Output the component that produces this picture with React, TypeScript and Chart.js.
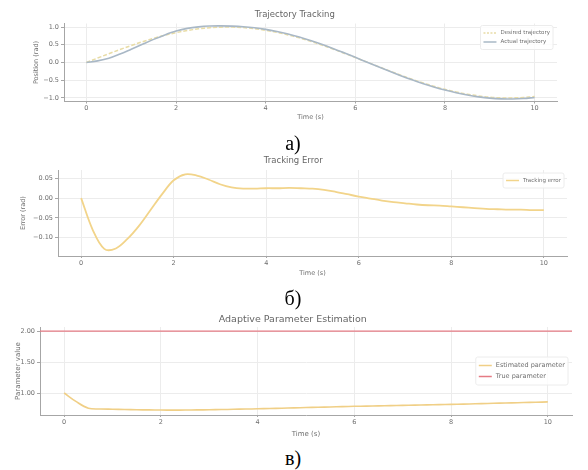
import React, { useEffect, useRef } from "react";
import { Chart, registerables } from "chart.js";

Chart.register(...registerables);

// ---------------- data ----------------
const time = [
  0, 0.25, 0.5, 0.75, 1, 1.25, 1.5, 1.75, 2, 2.25, 2.5, 2.75, 3, 3.25, 3.5, 3.75, 4, 4.25, 4.5, 4.75,
  5, 5.25, 5.5, 5.75, 6, 6.25, 6.5, 6.75, 7, 7.25, 7.5, 7.75, 8, 8.25, 8.5, 8.75, 9, 9.25, 9.5, 9.75, 10,
];

const desiredTrajectory = [
  0, 0.125, 0.247, 0.366, 0.479, 0.585, 0.682, 0.768, 0.841, 0.902, 0.949, 0.981, 0.997, 0.998, 0.984,
  0.954, 0.909, 0.85, 0.778, 0.694, 0.598, 0.493, 0.381, 0.262, 0.141, 0.017, -0.108, -0.23, -0.351,
  -0.466, -0.572, -0.67, -0.757, -0.831, -0.894, -0.942, -0.978, -0.997, -0.999, -0.986, -0.959,
];

const actualTrajectory = [
  0, 0.045, 0.119, 0.239, 0.376, 0.515, 0.652, 0.778, 0.886, 0.962, 1.006, 1.028, 1.032, 1.025, 1.008,
  0.978, 0.934, 0.875, 0.804, 0.719, 0.622, 0.514, 0.397, 0.272, 0.145, 0.016, -0.114, -0.24, -0.364,
  -0.482, -0.59, -0.689, -0.778, -0.854, -0.919, -0.969, -1.006, -1.026, -1.028, -1.016, -0.989,
];

const trackingError = [
  0, -0.08, -0.128, -0.127, -0.103, -0.07, -0.03, 0.01, 0.045, 0.06, 0.057, 0.047, 0.035, 0.027, 0.024,
  0.024, 0.025, 0.025, 0.026, 0.025, 0.024, 0.021, 0.016, 0.01, 0.004, -0.001, -0.006, -0.01, -0.013,
  -0.016, -0.018, -0.019, -0.021, -0.023, -0.025, -0.027, -0.028, -0.029, -0.029, -0.03, -0.03,
];

const estimatedParameter = [
  1.0, 0.86, 0.755, 0.742, 0.738, 0.734, 0.73, 0.727, 0.725, 0.724, 0.725, 0.727, 0.73, 0.733, 0.737,
  0.741, 0.745, 0.75, 0.755, 0.76, 0.765, 0.77, 0.775, 0.78, 0.785, 0.789, 0.793, 0.797, 0.801, 0.805,
  0.809, 0.813, 0.817, 0.821, 0.826, 0.831, 0.836, 0.841, 0.846, 0.851, 0.856,
];

const trueParameter = 2.0;

const timeTicks = [0, 2, 4, 6, 8, 10];
const positionTicks = [-1.0, -0.5, 0.0, 0.5, 1.0];
const errorTicks = [-0.1, -0.05, 0.0, 0.05];
const parameterTicks = [1.0, 1.5, 2.0];

// ---------------- styling helpers ----------------
const FONT = '"DejaVu Sans", sans-serif';
const TEXT = "#6f6f6f";
const GRID = "#ececec";
const SPINE = "#a6a6a6";

const fmt = (v: number, digits: number) => {
  const s = Math.abs(v).toFixed(digits);
  return v < -1e-9 ? "\u2212" + s : s;
};

const pts = (ys: number[]) => time.map((t, i) => ({ x: t, y: ys[i] }));

const legendPlugin = {
  id: "mplLegend",
  afterDatasetsDraw(chart: any) {
    const opts = chart.options.plugins.mplLegend;
    if (!opts || !opts.items) return;
    const { ctx, chartArea: a } = chart;
    ctx.save();
    ctx.font = `${opts.fontSize}px ${FONT}`;
    const tw = Math.max(...opts.items.map((it: any) => ctx.measureText(it.text).width));
    const pad = 3;
    const sample = 13;
    const gap = 4;
    const w = pad + sample + gap + tw + pad;
    const h = opts.items.length * opts.rowH + 2 * pad;
    const right = a.right - opts.marginX;
    const left = right - w;
    const top =
      opts.anchor === "center" ? (a.top + a.bottom) / 2 - h / 2 : a.top + opts.marginY;
    ctx.fillStyle = "rgba(255,255,255,0.85)";
    ctx.strokeStyle = "#ececec";
    ctx.lineWidth = 1;
    ctx.beginPath();
    if ((ctx as any).roundRect) (ctx as any).roundRect(left, top, w, h, 2);
    else ctx.rect(left, top, w, h);
    ctx.fill();
    ctx.stroke();
    opts.items.forEach((it: any, i: number) => {
      const cy = top + pad + opts.rowH * (i + 0.5);
      ctx.strokeStyle = it.color;
      ctx.lineWidth = it.width || 1.5;
      ctx.setLineDash(it.dash || []);
      ctx.beginPath();
      ctx.moveTo(left + pad, cy);
      ctx.lineTo(left + pad + sample, cy);
      ctx.stroke();
      ctx.setLineDash([]);
      ctx.fillStyle = TEXT;
      ctx.textBaseline = "middle";
      ctx.textAlign = "left";
      ctx.fillText(it.text, left + pad + sample + gap, cy);
    });
    ctx.restore();
  },
};

type Spec = {
  top: number;
  height: number;
  title: string;
  titleSize: number;
  titlePad: { top: number; bottom: number };
  padLeft: number;
  yWidth: number;
  padRight: number;
  xHeight: number;
  yTitle: string;
  yMin: number;
  yMax: number;
  yTicks: number[];
  yDigits: number;
  axisFont: number;
  tickFont: number;
  datasets: any[];
  legend: any;
};

function buildConfig(spec: Spec): any {
  return {
    type: "line",
    data: { datasets: spec.datasets },
    plugins: [legendPlugin],
    options: {
      responsive: false,
      animation: false,
      events: [],
      layout: { padding: { left: spec.padLeft, right: spec.padRight, top: 0, bottom: 0 } },
      plugins: {
        legend: { display: false },
        tooltip: { enabled: false },
        title: {
          display: true,
          text: spec.title,
          color: "#666",
          font: { family: FONT, size: spec.titleSize, weight: "normal" },
          padding: spec.titlePad,
        },
        mplLegend: spec.legend,
      },
      scales: {
        x: {
          type: "linear",
          min: -0.5,
          max: 10.5,
          afterBuildTicks: (s: any) => {
            s.ticks = timeTicks.map((v) => ({ value: v }));
          },
          afterFit: (s: any) => {
            s.height = spec.xHeight;
            s.paddingLeft = 0;
            s.paddingRight = 0;
          },
          ticks: {
            color: TEXT,
            font: { family: FONT, size: spec.tickFont },
            padding: 1,
            maxRotation: 0,
            autoSkip: false,
            callback: (v: number) => String(v),
          },
          grid: { color: GRID, tickColor: SPINE, tickLength: 2, drawTicks: true },
          border: { display: true, color: SPINE, width: 1 },
          title: {
            display: true,
            text: "Time (s)",
            color: TEXT,
            font: { family: FONT, size: spec.axisFont },
            padding: { top: 0, bottom: 2 },
          },
        },
        y: {
          type: "linear",
          min: spec.yMin,
          max: spec.yMax,
          afterBuildTicks: (s: any) => {
            s.ticks = spec.yTicks.map((v) => ({ value: v }));
          },
          afterFit: (s: any) => {
            s.width = spec.yWidth;
            s.paddingTop = 0;
            s.paddingBottom = 0;
          },
          ticks: {
            color: TEXT,
            font: { family: FONT, size: spec.tickFont },
            padding: 2,
            autoSkip: false,
            callback: (v: number) => fmt(v, spec.yDigits),
          },
          grid: { color: GRID, tickColor: SPINE, tickLength: 3, drawTicks: true },
          border: { display: true, color: SPINE, width: 1 },
          title: {
            display: true,
            text: spec.yTitle,
            color: TEXT,
            font: { family: FONT, size: spec.axisFont },
            padding: { top: 0, bottom: 0 },
          },
        },
      },
    },
  };
}

const lineBase = {
  pointRadius: 0,
  fill: false,
  tension: 0.35,
};

const specs: Spec[] = [
  {
    top: 0,
    height: 123,
    title: "Trajectory Tracking",
    titleSize: 8.5,
    titlePad: { top: 9.4, bottom: 3.9 },
    padLeft: 32.5,
    yWidth: 31.5,
    padRight: 31,
    xHeight: 21.5,
    yTitle: "Position (rad)",
    yMin: -1.1,
    yMax: 1.1,
    yTicks: positionTicks,
    yDigits: 1,
    axisFont: 6.5,
    tickFont: 6.5,
    datasets: [
      {
        ...lineBase,
        label: "Desired trajectory",
        data: pts(desiredTrajectory),
        borderColor: "#e8dca6",
        borderDash: [4, 2],
        borderWidth: 1.5,
        order: 1,
      },
      {
        ...lineBase,
        label: "Actual trajectory",
        data: pts(actualTrajectory),
        borderColor: "#a9b8c6",
        borderWidth: 1.6,
        order: 0,
      },
    ],
    legend: {
      anchor: "upper",
      marginX: 4,
      marginY: 2,
      rowH: 9,
      fontSize: 5.5,
      items: [
        { text: "Desired trajectory", color: "#e8dca6", dash: [2, 1.5] },
        { text: "Actual trajectory", color: "#a9b8c6" },
      ],
    },
  },
  {
    top: 150,
    height: 129,
    title: "Tracking Error",
    titleSize: 8.5,
    titlePad: { top: 5.9, bottom: 3.9 },
    padLeft: 19.5,
    yWidth: 38.5,
    padRight: 21,
    xHeight: 23,
    yTitle: "Error (rad)",
    yMin: -0.146,
    yMax: 0.071,
    yTicks: errorTicks,
    yDigits: 2,
    axisFont: 6.5,
    tickFont: 6.5,
    datasets: [
      {
        ...lineBase,
        label: "Tracking error",
        data: pts(trackingError),
        borderColor: "#f2d48a",
        borderWidth: 1.8,
      },
    ],
    legend: {
      anchor: "upper",
      marginX: 3,
      marginY: 3,
      rowH: 9,
      fontSize: 5.5,
      items: [{ text: "Tracking error", color: "#f2d48a" }],
    },
  },
  {
    top: 305,
    height: 135,
    title: "Adaptive Parameter Estimation",
    titleSize: 9.5,
    titlePad: { top: 9.3, bottom: 1.3 },
    padLeft: 13.5,
    yWidth: 26.5,
    padRight: 16,
    xHeight: 25,
    yTitle: "Parameter value",
    yMin: 0.645,
    yMax: 2.065,
    yTicks: parameterTicks,
    yDigits: 2,
    axisFont: 7,
    tickFont: 6.5,
    datasets: [
      {
        ...lineBase,
        label: "Estimated parameter",
        data: pts(estimatedParameter),
        borderColor: "#f0cf86",
        borderWidth: 1.6,
      },
      {
        ...lineBase,
        label: "True parameter",
        data: [
          { x: -0.5, y: trueParameter },
          { x: 10.5, y: trueParameter },
        ],
        borderColor: "#e57b84",
        borderWidth: 1.2,
      },
    ],
    legend: {
      anchor: "center",
      marginX: 4,
      marginY: 0,
      rowH: 11,
      fontSize: 6.5,
      items: [
        { text: "Estimated parameter", color: "#f0cf86" },
        { text: "True parameter", color: "#e57b84" },
      ],
    },
  },
];

function Panel({ spec }: { spec: Spec }) {
  const ref = useRef<HTMLCanvasElement | null>(null);
  useEffect(() => {
    if (!ref.current) return;
    const chart = new Chart(ref.current, buildConfig(spec));
    return () => chart.destroy();
  }, [spec]);
  return (
    <canvas
      ref={ref}
      width={588}
      height={spec.height}
      style={{ position: "absolute", left: 0, top: spec.top, width: 588, height: spec.height, display: "block" }}
    />
  );
}

const captions = [
  { text: "a)", center: 143 },
  { text: "б)", center: 298 },
  { text: "в)", center: 458 },
];

export default function App() {
  return (
    <div
      style={{
        position: "absolute",
        left: 0,
        top: 0,
        width: 588,
        height: 470,
        background: "#fff",
        overflow: "hidden",
      }}
    >
      {specs.map((s, i) => (
        <Panel key={i} spec={s} />
      ))}
      {captions.map((c) => (
        <div
          key={c.text}
          style={{
            position: "absolute",
            left: 0,
            width: 586,
            top: c.center - 11,
            height: 22,
            lineHeight: "22px",
            textAlign: "center",
            fontFamily: '"Liberation Serif", "DejaVu Serif", serif',
            fontSize: 20,
            color: "#000",
          }}
        >
          {c.text}
        </div>
      ))}
    </div>
  );
}
